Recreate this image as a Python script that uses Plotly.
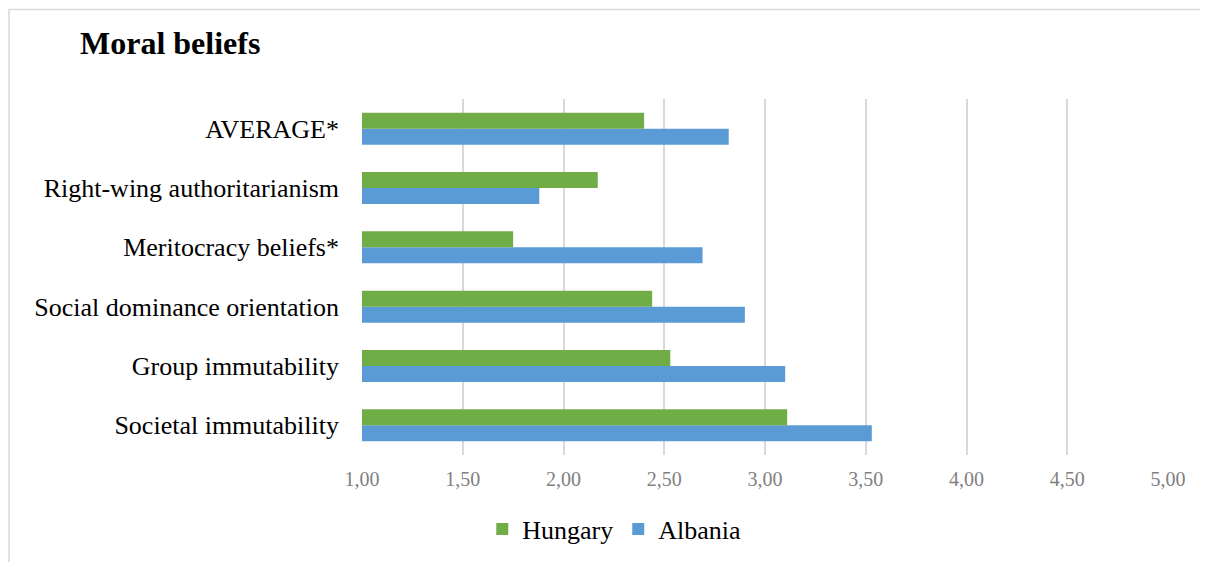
import plotly.graph_objects as go

categories = ["Societal immutability", "Group immutability", "Social dominance orientation",
              "Meritocracy beliefs*", "Right-wing authoritarianism", "AVERAGE*"]
hungary = [3.11, 2.53, 2.44, 1.75, 2.17, 2.40]
albania = [3.53, 3.10, 2.90, 2.69, 1.88, 2.82]
x_ticks = [1.0, 1.5, 2.0, 2.5, 3.0, 3.5, 4.0, 4.5, 5.0]

FONT = "Liberation Serif, Times New Roman, serif"
W, H = 1200, 554  # page has an 8px body margin
L, R, T, B = 354, 40, 91, 107

fig = go.Figure()
fig.add_trace(go.Bar(y=categories, x=albania, orientation="h", name="Albania",
                     marker=dict(color="#5B9BD5", line=dict(width=0)), legendrank=2))
fig.add_trace(go.Bar(y=categories, x=hungary, orientation="h", name="Hungary",
                     marker=dict(color="#70AD47", line=dict(width=0)), legendrank=1))

pw = W - L - R
ph = H - T - B
fig.update_layout(
    width=W, height=H,
    margin=dict(l=L, r=R, t=T, b=B, autoexpand=False),
    paper_bgcolor="white", plot_bgcolor="white",
    separators=",.",
    barmode="group", bargap=0.46, bargroupgap=0,
    font=dict(family=FONT, color="black"),
    title=dict(text="<b>Moral beliefs</b>", x=72/W, xref="container", xanchor="left",
               y=1-35/H, yref="container", yanchor="middle",
               font=dict(family=FONT, size=32, color="black")),
    legend=dict(orientation="h", x=0.313, xanchor="center",
                y=1-521/H, yref="container", yanchor="middle",
                font=dict(family=FONT, size=26, color="black"), bgcolor="rgba(0,0,0,0)"),
    shapes=[dict(type="rect", xref="paper", yref="paper", x0=-(L-1)/pw, x1=1.2,
                 y0=-0.5, y1=1+(T-1.5)/ph, line=dict(color="#d9d9d9", width=1.5),
                 fillcolor="rgba(0,0,0,0)", layer="below")],
)
fig.update_xaxes(range=[1, 5], tickvals=x_ticks, tickformat=".2f", showgrid=True,
                 gridcolor="#d9d9d9", gridwidth=1.5, zeroline=False, showline=False,
                 automargin=False,
                 tickfont=dict(family=FONT, size=20, color="#808080"), ticklabelstandoff=10)
fig.update_yaxes(type="category", categoryorder="array", categoryarray=categories,
                 showgrid=False, zeroline=False, showline=False, automargin=False,
                 tickfont=dict(family=FONT, size=26, color="black"), ticklabelstandoff=22)

fig.write_html("out.html")
